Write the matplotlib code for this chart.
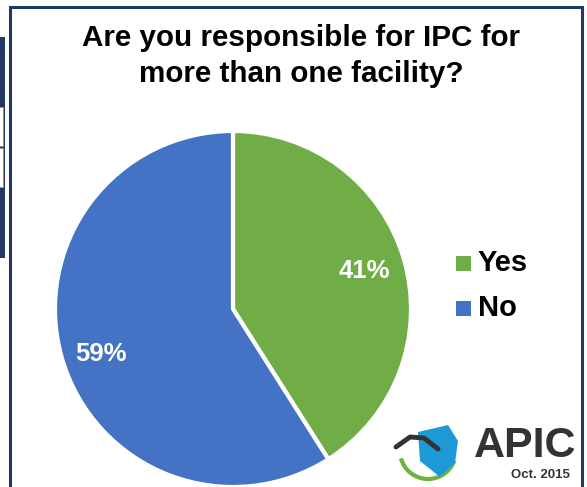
import matplotlib
matplotlib.use("Agg")
import matplotlib.pyplot as plt
from matplotlib.patches import Rectangle, Polygon, Arc

plt.rcParams['font.family'] = ['Liberation Sans', 'DejaVu Sans']

# data
labels = ["Yes", "No"]
shares = [41, 59]
colors = ["#70AD47", "#4472C4"]
title = "Are you responsible for IPC for\nmore than one facility?"

W, H = 587, 487
fig = plt.figure(figsize=(W / 100, H / 100), dpi=100)
fig.patch.set_facecolor("white")


def px(x, y):
    # pixel coords (top-left origin) -> figure fraction
    return x / W, 1 - y / H


navy = "#203864"

# outer slide frame
fig.patches.append(Rectangle(px(10, 495), 572 / W, 488 / H, transform=fig.transFigure,
                             facecolor="none", edgecolor=navy, lw=2.2, zorder=5))
# left neighbour panel
fig.patches.append(Rectangle(px(-2, 258), 7 / W, 221 / H, transform=fig.transFigure,
                             facecolor=navy, edgecolor="none", zorder=1))
for y0, y1 in [(107, 146), (148, 187)]:
    fig.patches.append(Rectangle(px(-2, y1), 5 / W, (y1 - y0) / H, transform=fig.transFigure,
                                 facecolor="white", edgecolor="#8a93a8", lw=0.6, zorder=2))

# pie: centre (233, 309), radius 178 px
cx, cy, r = 233, 309, 178
ax = fig.add_axes([(cx - r) / W, (H - cy - r) / H, 2 * r / W, 2 * r / H])
wedges, texts, autotexts = ax.pie(
    shares, colors=colors, startangle=90, counterclock=False,
    autopct=lambda p: f"{p:.0f}%", pctdistance=0.77, radius=1,
    wedgeprops=dict(edgecolor="white", linewidth=3),
    textprops=dict(color="white", fontsize=18.5, fontweight="bold"))
# nudge the "No" label a bit lower, as in the original
x59, y59 = autotexts[1].get_position()
autotexts[1].set_position((x59, y59 - 0.04))
ax.set_xlim(-1, 1)
ax.set_ylim(-1, 1)
ax.set_aspect("equal")
ax.axis("off")

fig.text(*px(301, 56), title, ha="center", va="center", fontsize=21.3,
         fontweight="bold", linespacing=1.4)

# legend
for (lab, col), yy in zip(zip(labels, colors), [263, 308]):
    fig.patches.append(Rectangle(px(456, yy + 7.5), 15 / W, 15 / H, transform=fig.transFigure,
                                 facecolor=col, edgecolor="none"))
    fig.text(*px(478, yy), lab, ha="left", va="center", fontsize=21, fontweight="bold")

# APIC logo (approximation)
lax = fig.add_axes([388 / W, 1 - 487 / H, 80 / W, 70 / H])
lax.set_xlim(0, 80)
lax.set_ylim(0, 70)
lax.axis("off")
lax.add_patch(Arc((40, 36), 56, 56, theta1=195, theta2=340, color="#6cb33f", lw=3))
lax.add_patch(Polygon([(30, 55), (60, 62), (70, 46), (67, 24), (52, 10), (32, 26)],
                      closed=True, facecolor="#1d9ad6", edgecolor="none"))
lax.plot([8, 22, 36, 50], [40, 50, 49, 38], color="#333333", lw=3.5, solid_capstyle="round")
fig.text(*px(525, 446), "APIC", ha="center", va="center", fontsize=31,
         fontweight="bold", color="#333333")
fig.text(*px(540, 475), "Oct. 2015", ha="center", va="center", fontsize=9.5,
         fontweight="bold", color="#333333")

fig.savefig("out.png", dpi=100)
